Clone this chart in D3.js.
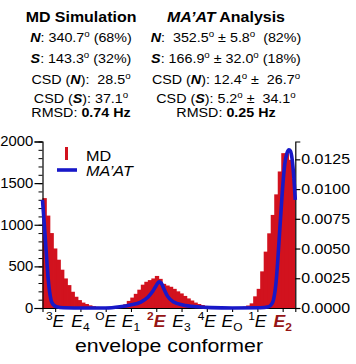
<!DOCTYPE html>
<html><head><meta charset="utf-8">
<script src="https://cdn.jsdelivr.net/npm/d3@7"></script>
<style>
html,body{margin:0;padding:0;background:#fff;}
svg text{font-family:"Liberation Sans",Arial,Helvetica,sans-serif;white-space:pre;}
</style></head><body>
<svg id="chart" width="356" height="364"></svg>
<script>
// ---------- data ----------
const binStartDeg = d3.range(0, 360, 5);            // histogram bins (5° wide)
const mdCounts = [1320,1110,900,715,580,460,355,275,195,135,95,65,48,32,22,14,9,6,4,4,
  7,14,24,45,85,125,170,220,280,315,335,355,385,350,290,270,255,230,200,175,145,115,90,65,
  48,36,25,18,12,8,5,4,3,3,4,6,10,16,30,56,140,230,440,677,897,1118,1365,1640,1860,1860,1780,1550];
const maatAngle   = [0,2,4,6,8,10,12,15,20,30,60,90,110,125,140,150,157,162,166,169,173,178,187,200,220,240,270,310,322,326,329,333,335.5,338,340.5,343,345,348,351,353,355.5,358,360];
const maatDensity = [0.0091,0.0075,0.0058,0.0041,0.0025,0.0014,0.0007,0.0003,0.0001,0.00002,0,0,0.0001,0.00025,0.0005,0.0009,0.0014,0.0019,0.0022,0.0021,0.0016,0.0010,0.0005,0.00025,0.0001,0.00003,0,0.00002,0.0001,0.0003,0.0007,0.0024,0.0044,0.0067,0.0089,0.0109,0.0121,0.0130,0.0133,0.0132,0.0125,0.0109,0.0091];
const leftTicks  = [0,500,1000,1500,2000];
const rightTicks = [0,0.0025,0.005,0.0075,0.01,0.0125];
const conformerAngle = [18,54,90,126,162,198,234,270,306,342];
const conformerLabel = [
  [{t:"3",sup:1},{t:"E",i:1}], [{t:"E",i:1},{t:"4",sub:1}], [{t:"O",sup:1},{t:"E",i:1}],
  [{t:"E",i:1},{t:"1",sub:1}], [{t:"2",sup:1,b:1,hi:1},{t:"E",i:1,b:1,hi:1}], [{t:"E",i:1},{t:"3",sub:1}],
  [{t:"4",sup:1},{t:"E",i:1}], [{t:"E",i:1},{t:"O",sub:1}], [{t:"1",sup:1},{t:"E",i:1}],
  [{t:"E",i:1,b:1,hi:1},{t:"2",sub:1,b:1,hi:1}]];
const statsMD = [
  [{t:"MD Simulation",b:1}],
  [{t:"N",b:1,i:1},{t:": 340.7"},{t:"o",sup:1},{t:" (68%)"}],
  [{t:"S",b:1,i:1},{t:": 143.3"},{t:"o",sup:1},{t:" (32%)"}],
  [{t:"CSD ("},{t:"N",b:1,i:1},{t:"):  28.5"},{t:"o",sup:1}],
  [{t:"CSD ("},{t:"S",b:1,i:1},{t:"): 37.1"},{t:"o",sup:1}],
  [{t:"RMSD: "},{t:"0.74 Hz",b:1}]];
const statsMAAT = [
  [{t:"MA\u2019AT",b:1,i:1},{t:" Analysis",b:1}],
  [{t:"N",b:1,i:1},{t:":  352.5"},{t:"o",sup:1},{t:" \u00b1 5.8"},{t:"o",sup:1},{t:"  (82%)"}],
  [{t:"S",b:1,i:1},{t:": 166.9"},{t:"o",sup:1},{t:" \u00b1 32.0"},{t:"o",sup:1},{t:" (18%)"}],
  [{t:"CSD ("},{t:"N",b:1,i:1},{t:"): 12.4"},{t:"o",sup:1},{t:" \u00b1  26.7"},{t:"o",sup:1}],
  [{t:"CSD ("},{t:"S",b:1,i:1},{t:"): 5.2"},{t:"o",sup:1},{t:" \u00b1  34.1"},{t:"o",sup:1}],
  [{t:"RMSD: "},{t:"0.25 Hz",b:1}]];

// ---------- layout ----------
const RED = "#d2121e", BLUE = "#1818c8", DARKRED = "#951414";
const SX = 1.14;
const svg = d3.select("#chart");
const x = d3.scaleLinear().domain([0,360]).range([42.5,295.3]);
const yL = d3.scaleLinear().domain([0,2000]).range([308,141.5]);
const yR = d3.scaleLinear().domain([0,0.014]).range([308,141.5]);

function rich(parent, px, py, anchor, size, sx, parts, fill){
  const g = parent.append("g").attr("transform",`translate(${px},${py}) scale(${sx},1)`);
  const t = g.append("text").attr("text-anchor",anchor).attr("font-size",size).attr("fill",fill||"#000");
  let shift = 0;
  parts.forEach(p=>{
    const target = p.sup ? -0.42*size : p.sub ? 0.28*size : 0;
    const ts = t.append("tspan").text(p.t).attr("dy", target-shift);
    shift = target;
    if(p.sup||p.sub) ts.attr("font-size", size*0.68);
    if(p.b) ts.attr("font-weight","bold");
    if(p.i) ts.attr("font-style","italic");
    if(p.hi) ts.attr("fill",DARKRED);
  });
  return g;
}

// histogram
svg.append("g").selectAll("rect").data(mdCounts).join("rect")
  .attr("x",(d,i)=>x(binStartDeg[i]))
  .attr("width",(d,i)=>Math.min(x(binStartDeg[i]+5)+0.8, x(360))-x(binStartDeg[i]))
  .attr("y",d=>yL(d)).attr("height",d=>yL(0)-yL(d))
  .attr("fill",RED);

// axes
const gL = svg.append("g").attr("transform",`translate(${x(0)},0)`)
  .call(d3.axisLeft(yL).tickValues(d3.range(0,2001,100)).tickSize(4).tickFormat(""));
gL.select(".domain").remove();
const gL2 = svg.append("g").attr("transform",`translate(${x(0)},0)`)
  .call(d3.axisLeft(yL).tickValues(leftTicks).tickSize(8).tickPadding(1.5).tickFormat(d3.format("d")));
gL2.selectAll("text").attr("font-size",14).attr("transform",`scale(1.06,1)`).attr("x",-9.2/1.06)
  .attr("font-family","Liberation Sans, Arial, sans-serif");
gL2.selectAll("line,path").attr("stroke","#000").attr("stroke-width",1.2);
gL.selectAll("line").attr("stroke","#000").attr("stroke-width",1);

const gR = svg.append("g").attr("transform",`translate(${x(360)},0)`)
  .call(d3.axisRight(yR).tickValues(rightTicks).tickSize(5).tickFormat(d3.format(".4f")));
gR.selectAll("text").attr("font-size",14).attr("transform",`scale(${SX},1)`).attr("x",6/SX)
  .attr("font-family","Liberation Sans, Arial, sans-serif");
gR.selectAll("line,path").attr("stroke","#000").attr("stroke-width",1.2);

const gB = svg.append("g").attr("transform",`translate(0,308)`)
  .call(d3.axisBottom(x).tickValues(conformerAngle).tickSize(4).tickFormat(""));
gB.selectAll("line,path").attr("stroke","#000").attr("stroke-width",1.1);

// MA'AT curve
const line = d3.line().x((d,i)=>x(maatAngle[i])).y(d=>yR(d)).curve(d3.curveMonotoneX);
svg.append("path").datum(maatDensity).attr("d",line)
  .attr("fill","none").attr("stroke",BLUE).attr("stroke-width",3.6).attr("stroke-linejoin","round");

// x labels
conformerAngle.forEach((a,i)=>{
  rich(svg, x(a), 327, "middle", 16, 1.1, conformerLabel[i]);
});
rich(svg, 169, 352, "middle", 19, 1.12, [{t:"envelope conformer"}]);

// legend
svg.append("rect").attr("x",65).attr("y",147).attr("width",3).attr("height",13).attr("fill",RED);
svg.append("line").attr("x1",57).attr("x2",77).attr("y1",170).attr("y2",170)
  .attr("stroke",BLUE).attr("stroke-width",3.6);
rich(svg, 86, 161, "start", 15, 1.08, [{t:"MD"}]);
rich(svg, 86, 176, "start", 15, 1.08, [{t:"MA\u2019AT",i:1}]);

// stats text
const rowY = [22,42,63,84,103,117];
statsMD.forEach((r,i)=> rich(svg, 81, rowY[i], "middle", i===0?14:13, i===0?SX:1.1, r));
statsMAAT.forEach((r,i)=> rich(svg, 226, rowY[i], "middle", i===0?14:13, i===0?SX:1.1, r));
</script></body></html>
